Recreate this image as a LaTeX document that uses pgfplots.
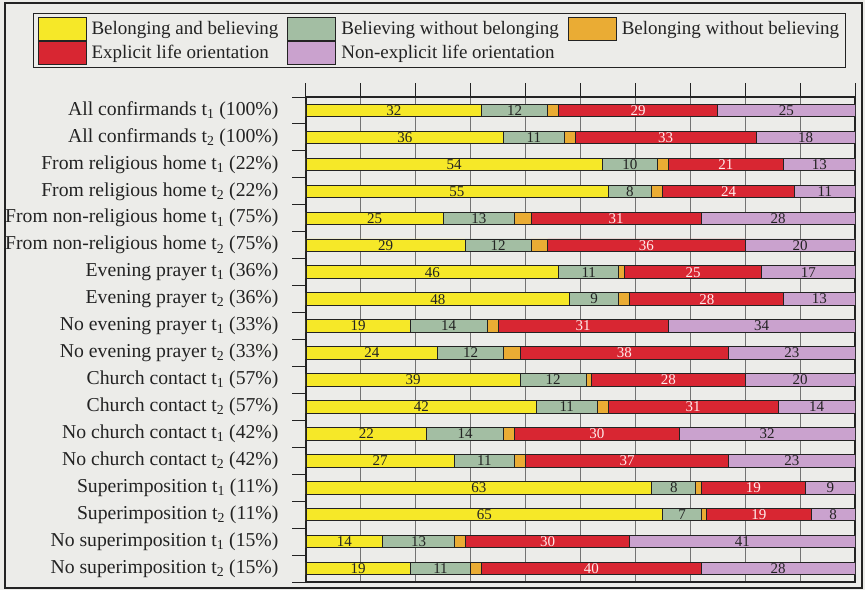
\documentclass[border=0pt]{standalone}
\usepackage{pgfplots}
\pgfplotsset{compat=1.18}
\usepackage{pgfplotstable}
\usepackage{fontspec}
\setmainfont{Liberation Serif}

\definecolor{paper}{RGB}{236,236,233}
\definecolor{cYellow}{RGB}{246,232,40}
\definecolor{cGreen}{RGB}{163,190,163}
\definecolor{cOrange}{RGB}{234,172,52}
\definecolor{cRed}{RGB}{216,38,50}
\definecolor{cPurple}{RGB}{202,162,206}
\definecolor{ink}{RGB}{35,35,35}

% i: row, bb: belonging+believing, bwb: believing w/o belonging,
% bwob: belonging w/o believing, ex: explicit, nex: non-explicit
\pgfplotstableread{
i  bb bwb bwob ex nex
0  32 12  2    29 25
1  36 11  2    33 18
2  54 10  2    21 13
3  55  8  2    24 11
4  25 13  3    31 28
5  29 12  3    36 20
6  46 11  1    25 17
7  48  9  2    28 13
8  19 14  2    31 34
9  24 12  3    38 23
10 39 12  1    28 20
11 42 11  2    31 14
12 22 14  2    30 32
13 27 11  2    37 23
14 63  8  1    19  9
15 65  7  1    19  8
16 14 13  2    30 41
17 19 11  2    40 28
}\shares

% compat 1.18 already centres the labels inside stacked segments
\pgfplotsset{
  lbl/.style={
    point meta=explicit,
    nodes near coords={\pgfmathprintnumber[assume math mode=true]{\pgfplotspointmeta}},
    every node near coord/.append style={font=\fontsize{15}{15}\selectfont,
      text=#1, inner sep=0pt},
  },
}

\begin{document}
\begin{tikzpicture}
\useasboundingbox (0,0) rectangle (865pt,590pt);
\fill[paper] (0,0) rectangle (865pt,590pt);
\draw[ink, line width=1.2pt] (5pt,2pt) rectangle (862pt,587pt);
\begin{axis}[
    scale only axis,
    width=549pt, height=485pt,
    at={(306pt,8pt)}, anchor=south west,
    xbar stacked,
    bar width=12.5pt,
    xmin=0, xmax=100,
    ymin=-0.5, ymax=17.5,
    y dir=reverse,
    axis line style={ink, line width=1.2pt},
    xtick={0,10,...,100},
    xticklabels={},
    xtick pos=right,
    ytick pos=left,
    ytick={0,...,17},
    minor ytick={-0.5,0.5,...,17.5},
    tick align=outside,
    major tick length=14pt,
    minor tick length=14pt,
    major y tick style={draw=none},
    minor y tick style={ink, line width=1pt},
    major x tick style={ink, line width=1pt},
    xmajorgrids,
    major x grid style={black!55, line width=0.9pt},
    yticklabel style={font=\fontsize{19.7}{21}\selectfont, text=ink, xshift=-10pt},
    yticklabels={
      {All confirmands t\textsubscript{1} (100\%)},
      {All confirmands t\textsubscript{2} (100\%)},
      {From religious home t\textsubscript{1} (22\%)},
      {From religious home t\textsubscript{2} (22\%)},
      {From non-religious home t\textsubscript{1} (75\%)},
      {From non-religious home t\textsubscript{2} (75\%)},
      {Evening prayer t\textsubscript{1} (36\%)},
      {Evening prayer t\textsubscript{2} (36\%)},
      {No evening prayer t\textsubscript{1} (33\%)},
      {No evening prayer t\textsubscript{2} (33\%)},
      {Church contact t\textsubscript{1} (57\%)},
      {Church contact t\textsubscript{2} (57\%)},
      {No church contact t\textsubscript{1} (42\%)},
      {No church contact t\textsubscript{2} (42\%)},
      {Superimposition t\textsubscript{1} (11\%)},
      {Superimposition t\textsubscript{2} (11\%)},
      {No superimposition t\textsubscript{1} (15\%)},
      {No superimposition t\textsubscript{2} (15\%)},
    },
    legend columns=3,
    legend cell align=left,
    legend image code/.code={\draw[#1, draw=ink, line width=1pt] (0pt,-11.5pt) rectangle (48pt,11.5pt);},
    legend style={at={(-0.4973,1.1732)}, anchor=north west,
      draw=ink, line width=1.1pt, fill=paper,
      inner xsep=4pt, inner ysep=3pt,
      font=\fontsize{19}{21}\selectfont, text=ink,
      nodes={inner sep=2pt}, row sep=0pt,
      /tikz/every odd column/.append style={column sep=3pt},
      /tikz/every even column/.append style={column sep=7pt}},
]
\addplot+[fill=cYellow, draw=ink, line width=0.9pt, lbl=ink] table[x=bb, y=i, meta=bb] {\shares};
\addplot+[fill=cGreen, draw=ink, line width=0.9pt, lbl=ink] table[x=bwb, y=i, meta=bwb] {\shares};
\addplot+[fill=cOrange, draw=ink, line width=0.9pt] table[x=bwob, y=i] {\shares};
\addplot+[fill=cRed, draw=ink, line width=0.9pt, lbl={white!92!red}] table[x=ex, y=i, meta=ex] {\shares};
\addplot+[fill=cPurple, draw=ink, line width=0.9pt, lbl=ink] table[x=nex, y=i, meta=nex] {\shares};
\legend{Belonging and believing, Believing without belonging, Belonging without believing, Explicit life orientation, Non-explicit life orientation}
\end{axis}
\end{tikzpicture}
\end{document}
